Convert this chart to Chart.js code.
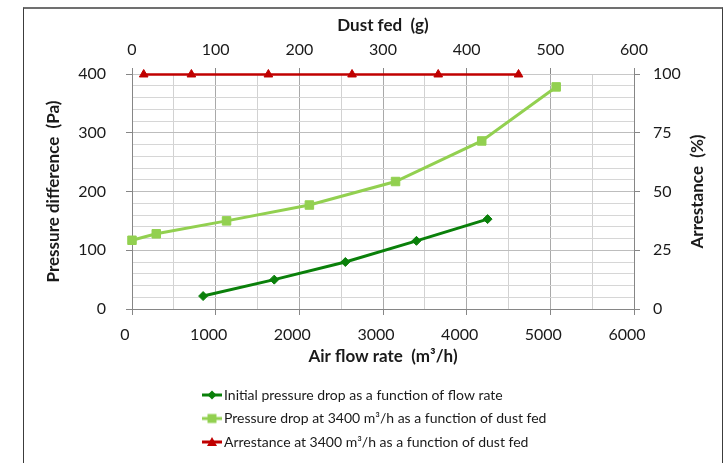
<!DOCTYPE html>
<html><head><meta charset="utf-8">
<script src="https://cdn.jsdelivr.net/npm/chart.js@4.4.1/dist/chart.umd.min.js"></script>
<style>
html,body{margin:0;padding:0;background:#fff;}
#wrap{position:relative;width:728px;height:463px;overflow:hidden;background:#fff;}
#frame{position:absolute;left:23px;top:7px;width:700px;height:480px;border:1px solid #3c3c3c;border-top:2px solid #707070;box-sizing:border-box;pointer-events:none;}
canvas{position:absolute;left:0;top:0;}
</style></head><body>
<div id="wrap"><canvas id="c" width="728" height="463"></canvas><div id="frame"></div></div>
<script>
// ---- data ----
const flowRate = [850, 1700, 2550, 3400, 4250];
const initialPressureDrop = [22, 50, 80, 116, 153];
const dustFedPressure = [0, 29, 113, 212, 315, 418, 507];
const pressureDropDust = [117, 128, 150, 177, 217, 286, 378];
const dustFedArrestance = [14, 71, 163, 263, 366, 462];
const arrestance = [99.8, 99.8, 99.8, 99.8, 99.8, 99.8];
const seriesLabels = [
  'Initial pressure drop as a function of flow rate',
  'Pressure drop at 3400 m\u00b3/h as a function of dust fed',
  'Arrestance at 3400 m\u00b3/h as a function of dust fed'
];
const bottomTitle = 'Air flow rate  (m\u00b3/h)';
const topTitle = 'Dust fed  (g)';
const leftTitle = 'Pressure difference  (Pa)';
const rightTitle = 'Arrestance  (%)';

const textColor = '#1a1a1a';
const darkGreen = '#0a800a';
const lightGreen = '#92d050';
const red = '#c00000';
const tickFont = {family: 'Lato', size: 16};
const titleFont = {family: 'Lato', size: 17, weight: 'bold'};

function pts(xs, ys) { return xs.map((x, i) => ({x: x, y: ys[i]})); }

function makeIcon(color, shape) {
  const c = document.createElement('canvas');
  c.width = 20; c.height = 12;
  const g = c.getContext('2d');
  g.strokeStyle = color; g.fillStyle = color; g.lineWidth = 3;
  g.beginPath(); g.moveTo(0, 6); g.lineTo(20, 6); g.stroke();
  g.beginPath();
  if (shape === 'diamond') { g.moveTo(10, 1.5); g.lineTo(14.5, 6); g.lineTo(10, 10.5); g.lineTo(5.5, 6); }
  else if (shape === 'square') { g.rect(5.5, 1.5, 9, 9); }
  else { g.moveTo(10, 1); g.lineTo(15, 10); g.lineTo(5, 10); }
  g.closePath(); g.fill();
  return c;
}
const icons = [makeIcon(darkGreen, 'diamond'), makeIcon(lightGreen, 'square'), makeIcon(red, 'triangle')];

const layoutTweak = {
  id: 'layoutTweak',
  afterLayout(chart) {
    const lg = chart.legend;
    if (!lg) return;
    const h = lg.height, w = lg.width;
    lg.top = 378.5; lg.bottom = lg.top + h;
    lg.left = 197.5; lg.right = lg.left + w;
  },
  afterDraw(chart) {
    const a = chart.chartArea, ctx = chart.ctx;
    ctx.save();
    ctx.translate(698, (a.top + a.bottom) / 2);
    ctx.rotate(-Math.PI / 2);
    ctx.font = 'bold 17px Lato';
    ctx.fillStyle = textColor;
    ctx.textAlign = 'center';
    ctx.textBaseline = 'middle';
    ctx.fillText(rightTitle, 0, 0);
    ctx.restore();
  }
};

new Chart(document.getElementById('c'), {
  type: 'scatter',
  data: {
    datasets: [
      { label: seriesLabels[0], data: pts(flowRate, initialPressureDrop), xAxisID: 'x', yAxisID: 'y',
        showLine: true, borderColor: darkGreen, backgroundColor: darkGreen, borderWidth: 3,
        pointStyle: 'rectRot', pointRadius: 4.5, pointBorderWidth: 1, pointBackgroundColor: darkGreen, pointBorderColor: darkGreen, clip: false },
      { label: seriesLabels[1], data: pts(dustFedPressure, pressureDropDust), xAxisID: 'x2', yAxisID: 'y',
        showLine: true, borderColor: lightGreen, backgroundColor: lightGreen, borderWidth: 3,
        pointStyle: 'rect', pointRadius: 6, pointBorderWidth: 1, pointBackgroundColor: lightGreen, pointBorderColor: lightGreen, clip: false },
      { label: seriesLabels[2], data: pts(dustFedArrestance, arrestance), xAxisID: 'x2', yAxisID: 'y2',
        showLine: true, borderColor: red, backgroundColor: red, borderWidth: 2.5,
        pointStyle: 'triangle', pointRadius: 5, pointBorderWidth: 1, pointBackgroundColor: red, pointBorderColor: red, clip: false }
    ]
  },
  options: {
    responsive: false,
    devicePixelRatio: 1,
    animation: false,
    layout: {padding: 0},
    plugins: {
      tooltip: {enabled: false},
      legend: {
        position: 'bottom', align: 'start', fullSize: false,
        labels: {
          usePointStyle: true, pointStyleWidth: 10, padding: 9.5,
          font: {family: 'Lato', size: 14}, color: textColor,
          generateLabels: (chart) => chart.data.datasets.map((ds, i) => ({
            text: ds.label, pointStyle: icons[i], fillStyle: ds.borderColor, strokeStyle: ds.borderColor,
            lineWidth: 0, hidden: false, datasetIndex: i, fontColor: textColor
          }))
        }
      }
    },
    scales: {
      x: {
        type: 'linear', position: 'bottom', min: 0, max: 6000,
        afterFit: s => { s.height = 73.5; },
        ticks: { stepSize: 500, autoSkip: false, maxRotation: 0, padding: 10, labelOffset: -7,
          color: textColor, font: tickFont, callback: v => (v % 1000 === 0 ? String(v) : '') },
        grid: { color: c => (c.tick && c.tick.value % 1000 === 0 ? '#a9a9a9' : '#d2d2d2'),
          tickColor: c => (c.tick && c.tick.value % 1000 === 0 ? '#868686' : 'rgba(0,0,0,0)'), tickLength: 6 },
        border: { color: '#868686' },
        title: { display: true, text: bottomTitle, color: textColor, font: titleFont, padding: {top: 0, bottom: 15.3} }
      },
      x2: {
        type: 'linear', position: 'top', min: 0, max: 600,
        afterFit: s => { s.height = 74; },
        ticks: { stepSize: 100, autoSkip: false, maxRotation: 0, padding: 9, color: textColor, font: tickFont },
        grid: { drawOnChartArea: false, tickLength: 6, tickColor: '#868686' },
        border: { color: '#c8c8c8' },
        title: { display: true, text: topTitle, color: textColor, font: titleFont, padding: {top: 15.4, bottom: 0} }
      },
      y: {
        type: 'linear', position: 'left', min: 0, max: 400,
        afterFit: s => { s.width = 132; },
        ticks: { stepSize: 20, autoSkip: false, padding: 20, color: textColor, font: tickFont,
          callback: v => (v % 100 === 0 ? String(v) : '') },
        grid: { color: c => (c.tick && c.tick.value % 100 === 0 ? '#bdbdbd' : '#d6d6d6'),
          tickColor: c => (c.tick && c.tick.value % 100 === 0 ? '#868686' : 'rgba(0,0,0,0)'), tickLength: 6 },
        border: { color: '#868686' },
        title: { display: true, text: leftTitle, color: textColor, font: titleFont, padding: {top: 43.4, bottom: 0} }
      },
      y2: {
        type: 'linear', position: 'right', min: 0, max: 100,
        afterFit: s => { s.width = 94; },
        ticks: { stepSize: 25, autoSkip: false, padding: 13, color: textColor, font: tickFont },
        grid: { drawOnChartArea: false, tickLength: 6, tickColor: '#868686' },
        border: { color: '#868686' },
        title: { display: false, text: rightTitle }
      }
    }
  },
  plugins: [layoutTweak]
});
</script>
</body></html>
